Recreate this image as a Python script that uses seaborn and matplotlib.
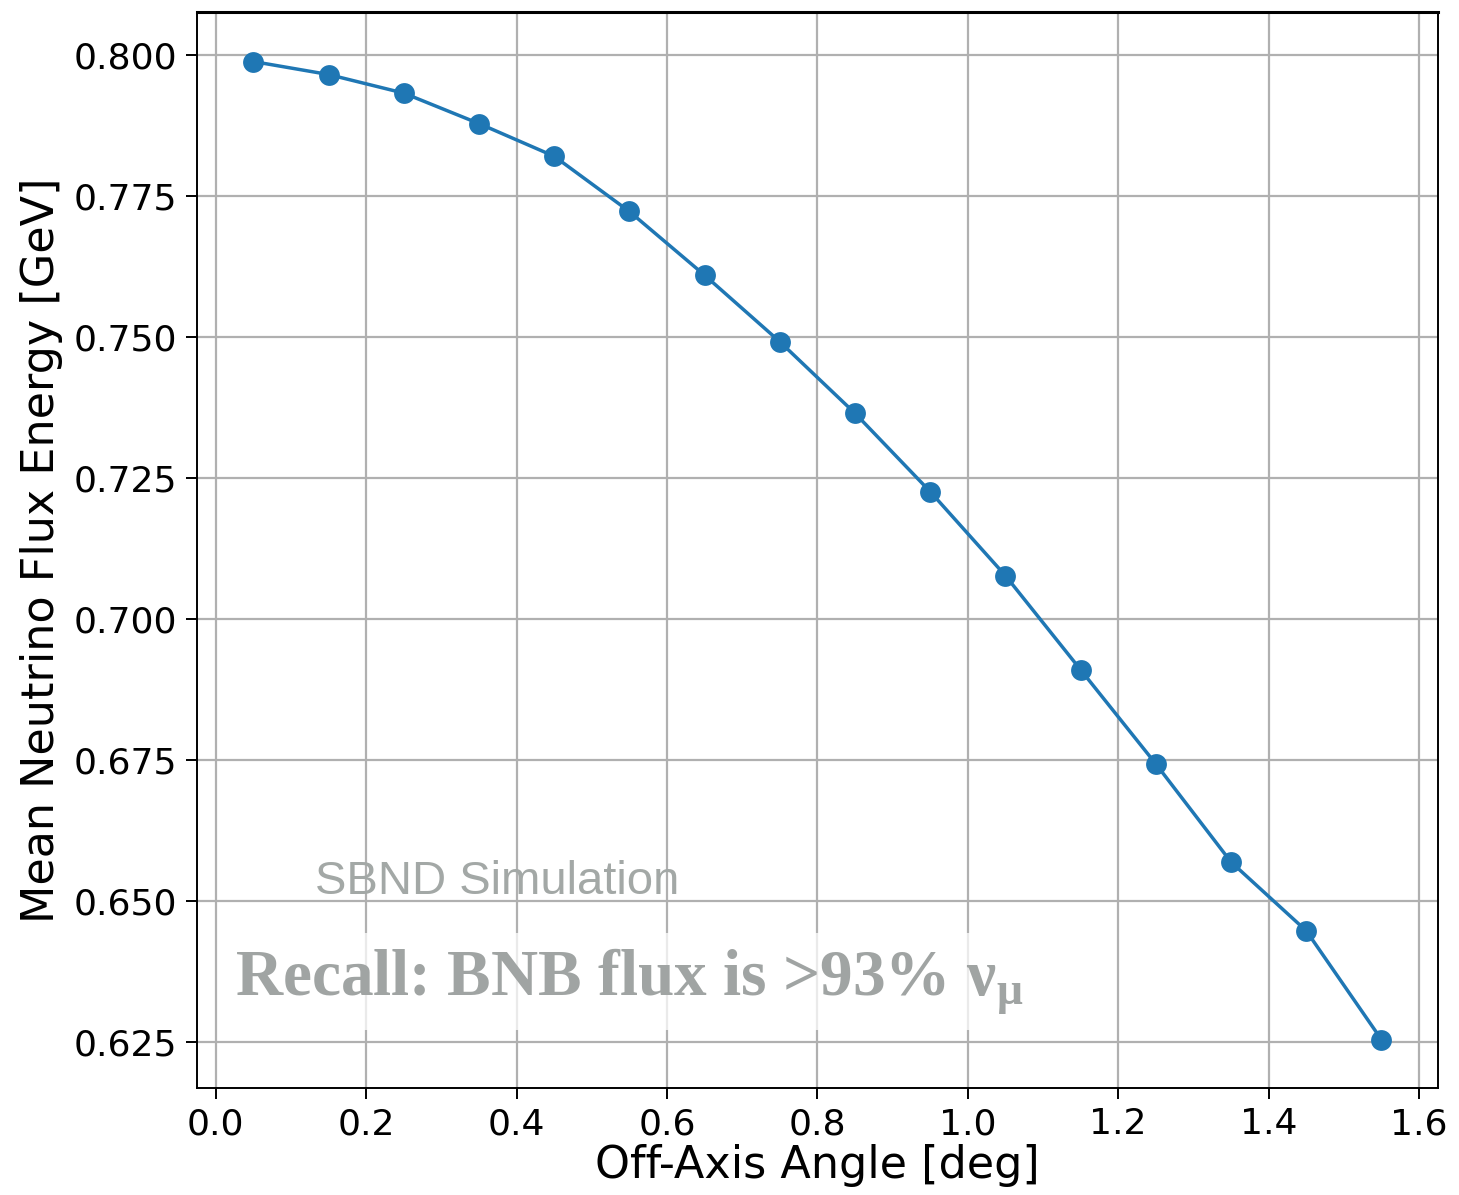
import matplotlib
matplotlib.use("Agg")
import matplotlib.pyplot as plt
import seaborn as sns
import pandas as pd

angles = [0.05, 0.15, 0.25, 0.35, 0.45, 0.55, 0.65, 0.75, 0.85, 0.95, 1.05, 1.15, 1.25, 1.35, 1.45, 1.55]
mean_energy = [0.7989, 0.7966, 0.7933, 0.7879, 0.7821, 0.7723, 0.7610, 0.7492, 0.7365, 0.7226,
               0.7077, 0.6910, 0.6743, 0.6569, 0.6447, 0.6254]
x_ticks = [0.0, 0.2, 0.4, 0.6, 0.8, 1.0, 1.2, 1.4, 1.6]
y_ticks = [0.625, 0.650, 0.675, 0.700, 0.725, 0.750, 0.775, 0.800]

sns.set_theme(style="ticks")
plt.rcParams['font.family'] = ['DejaVu Sans']

df = pd.DataFrame({"angle": angles, "energy": mean_energy})

fig = plt.figure(figsize=(14.59, 11.95), dpi=100)
ax = fig.add_axes([0.135, 0.0895, 0.8505, 0.9005])

sns.lineplot(data=df, x="angle", y="energy", ax=ax, color="#1f77b4", marker="o",
             markersize=15, markeredgewidth=0, linewidth=2.5, zorder=3)

ax.set_xticks(x_ticks)
ax.set_yticks(y_ticks)
ax.set_xticklabels([f"{v:.1f}" for v in x_ticks])
ax.set_yticklabels([f"{v:.3f}" for v in y_ticks])
ax.set_xlim(-0.025, 1.625)
ax.set_ylim(0.6168, 0.8077)
ax.grid(True, color="#b0b0b0", linewidth=1.6)
ax.set_axisbelow(True)
for s in ax.spines.values():
    s.set_color("black")
    s.set_linewidth(1.4)
ax.spines["top"].set_linewidth(2.2)
ax.tick_params(axis="both", labelsize=26, length=8, width=1.4, color="black",
               labelcolor="black", pad=6)
ax.set_xlabel("Off-Axis Angle [deg]", fontsize=32, labelpad=2, color="black")
ax.set_ylabel("Mean Neutrino Flux Energy [GeV]", fontsize=32, labelpad=8, color="black")

ax.text(0.1316, 0.6534, "SBND Simulation", fontsize=34, color="#a3a8a6",
        family="Liberation Sans", ha="left", va="center", zorder=4)
ax.text(0.026, 0.6357, r"Recall: BNB flux is >93% $\mathregular{\nu_\mu}$", fontsize=47,
        color="#a0a4a3", family="Liberation Serif", weight="bold", ha="left", va="center",
        zorder=4, bbox=dict(facecolor="white", edgecolor="none", alpha=0.75, pad=10))

fig.savefig("out.png", dpi=100)
